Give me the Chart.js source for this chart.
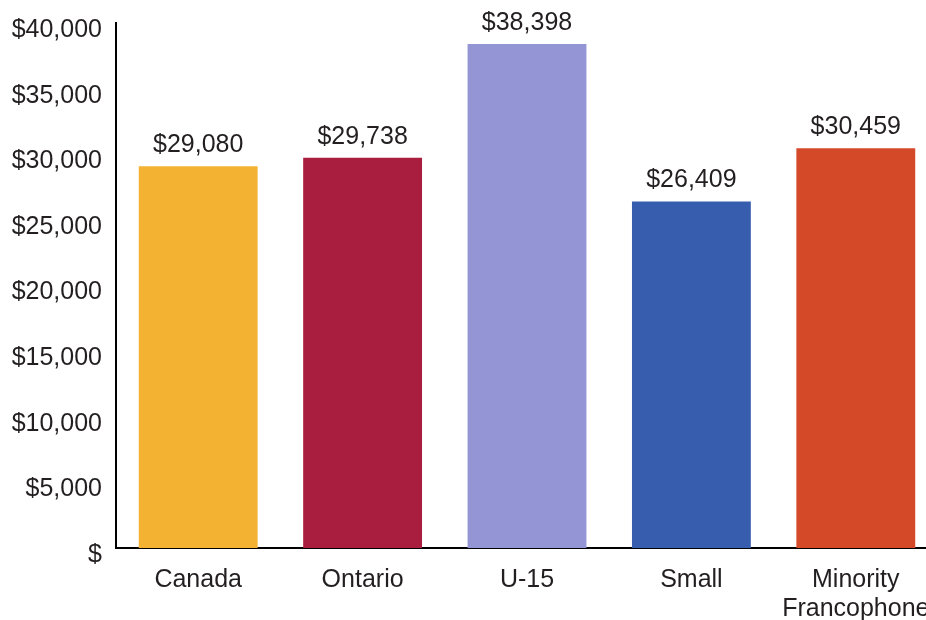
<!DOCTYPE html>
<html>
<head>
<meta charset="utf-8">
<script src="https://cdn.jsdelivr.net/npm/chart.js@4"></script>
<style>
html,body{margin:0;padding:0;overflow:hidden;background:#fff;width:926px;height:620px;}
#wrap{width:926px;height:620px;overflow:hidden;position:relative;}
canvas{display:block;}
</style>
</head>
<body>
<div id="wrap"><canvas id="c" width="940" height="620"></canvas></div>
<script>
const categories = [["Canada"], ["Ontario"], ["U-15"], ["Small"], ["Minority", "Francophone"]];
const values = [29080, 29738, 38398, 26409, 30459];
const barColors = ["#F3B232", "#A91D3F", "#9395D4", "#375EAE", "#D44927"];
const yTicks = [0, 5000, 10000, 15000, 20000, 25000, 30000, 35000, 40000];

const FONT = "'Liberation Sans', Arial, Helvetica, sans-serif";
const FS = 25;
const fmt = v => v === 0 ? "$" : "$" + v.toLocaleString("en-US");

const valueLabels = {
  id: "valueLabels",
  afterDatasetsDraw(chart) {
    const ctx = chart.ctx;
    const meta = chart.getDatasetMeta(0);
    ctx.save();
    ctx.font = FS + "px " + FONT;
    ctx.fillStyle = "#231f20";
    ctx.textAlign = "center";
    ctx.textBaseline = "middle";
    meta.data.forEach((bar, i) => {
      ctx.fillText(fmt(values[i]), bar.x, bar.y - 21);
    });
    ctx.restore();
  }
};

new Chart(document.getElementById("c"), {
  type: "bar",
  data: {
    labels: categories,
    datasets: [{
      data: values,
      backgroundColor: barColors,
      borderWidth: 0,
      categoryPercentage: 1.0,
      barPercentage: 0.723
    }]
  },
  options: {
    responsive: false,
    animation: false,
    devicePixelRatio: 1,
    layout: { padding: { top: 23, right: 2, left: 0, bottom: 0 } },
    plugins: { legend: { display: false }, tooltip: { enabled: false } },
    scales: {
      x: {
        grid: { display: false, drawTicks: false },
        border: { display: true, color: "#000", width: 2 },
        ticks: {
          color: "#231f20",
          font: { family: FONT, size: FS, lineHeight: 1.16 },
          padding: 18,
          maxRotation: 0,
          autoSkip: false
        },
        afterFit(scale) { scale.height = 72; scale.paddingLeft = 0; scale.paddingRight = 0; }
      },
      y: {
        min: 0,
        max: 40000,
        afterBuildTicks(scale) { scale.ticks = yTicks.map(v => ({ value: v })); },
        grid: { display: false, drawTicks: false },
        border: { display: true, color: "#000", width: 2 },
        ticks: {
          color: "#231f20",
          font: { family: FONT, size: FS },
          padding: 14,
          labelOffset: 7,
          callback: v => fmt(v)
        },
        afterFit(scale) { scale.width = 116; scale.paddingTop = 0; scale.paddingBottom = 0; }
      }
    }
  },
  plugins: [valueLabels]
});
</script>
</body>
</html>
